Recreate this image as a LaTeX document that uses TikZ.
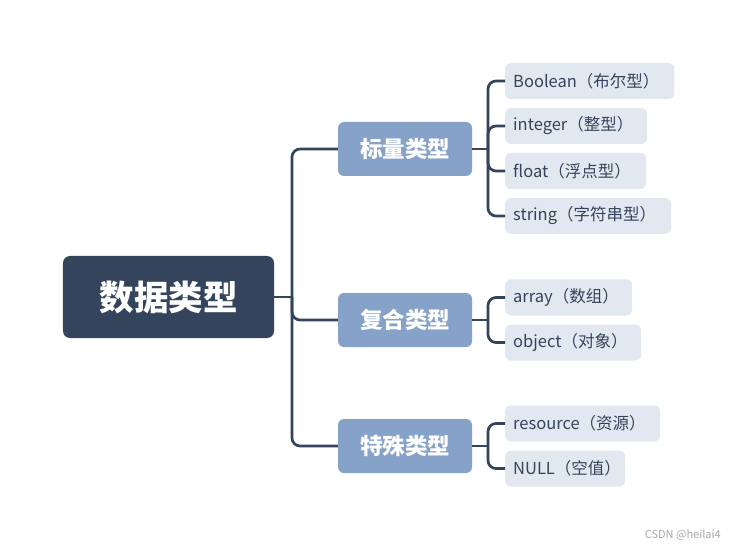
\documentclass[tikz,border=0pt]{standalone}
\usepackage{fontspec}
\setmainfont{Noto Sans CJK SC}
\definecolor{dark}{HTML}{34445C}
\definecolor{mid}{HTML}{86A2C8}
\definecolor{light}{HTML}{E2E8F0}
\definecolor{wm}{HTML}{A8A8A8}
\tikzset{
  rootbox/.style={fill=dark, text=white, rounded corners=7bp, minimum width=211bp, minimum height=82bp, inner sep=0pt, font=\fontsize{34.5bp}{40bp}\selectfont\bfseries},
  topicbox/.style={fill=mid, text=white, rounded corners=6bp, minimum width=134bp, minimum height=54bp, inner sep=0pt, font=\fontsize{22.5bp}{26bp}\selectfont\bfseries},
  leafbox/.style={fill=light, text=dark, rounded corners=6bp, minimum height=36bp, inner xsep=8bp, inner ysep=0pt, anchor=west, align=left, text width=#1-16bp, font=\fontsize{16.5bp}{20bp}\selectfont},
  link/.style={draw=dark, line width=2.7bp, rounded corners=8bp},
}
\begin{document}
\begin{tikzpicture}[x=1bp, y=-1bp]
\useasboundingbox (0,0) rectangle (737,550);
\fill[white] (0,0) rectangle (737,550);
\node[rootbox] (root) at (168.5,297) {数据类型};
\node[topicbox] (t1) at (405,149) {标量类型};
\node[topicbox] (t2) at (405,320) {复合类型};
\node[topicbox] (t3) at (405,446) {特殊类型};
\node[leafbox=169bp] (a1) at (505,81) {Boolean（布尔型）};
\node[leafbox=142bp] (a2) at (505,126) {integer（整型）};
\node[leafbox=141bp] (a3) at (505,171) {float（浮点型）};
\node[leafbox=166bp] (a4) at (505,216) {string（字符串型）};
\node[leafbox=127bp] (b1) at (505,297.5) {array（数组）};
\node[leafbox=136bp] (b2) at (505,342.5) {object（对象）};
\node[leafbox=155bp] (c1) at (505,423.5) {resource（资源）};
\node[leafbox=120bp] (c2) at (505,468.5) {NULL（空值）};
\coordinate (j0) at (292,297);
\coordinate (j1) at (488,149);
\coordinate (j2) at (488,320);
\coordinate (j3) at (488,446);
\draw[link] (root.east) -- (j0);
\draw[link] (t1.west) -| (j0);
\draw[link] (t2.west) -| (j0);
\draw[link] (t3.west) -| (j0);
\draw[link] (t1.east) -- (j1);
\draw[link] (t2.east) -- (j2);
\draw[link] (t3.east) -- (j3);
\foreach \n in {a1,a2,a3,a4} \draw[link] (\n.west) -| (j1);
\foreach \n in {b1,b2} \draw[link] (\n.west) -| (j2);
\foreach \n in {c1,c2} \draw[link] (\n.west) -| (j3);
\node[text=wm, anchor=east, font=\fontsize{11bp}{13bp}\selectfont, inner sep=0pt] (wmk) at (721,535) {CSDN @heilai4};
\end{tikzpicture}
\end{document}
